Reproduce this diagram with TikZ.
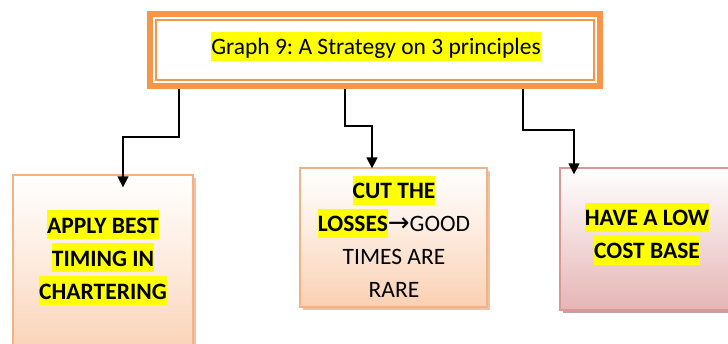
\documentclass[tikz,border=0pt]{standalone}
\usepackage{fontspec}
\setmainfont{Carlito}
\newfontfamily\arrowfont{DejaVu Sans}
\usetikzlibrary{arrows.meta,shadows}
\frenchspacing

\definecolor{frameorange}{HTML}{F79646}
\definecolor{peachline}{HTML}{F4B183}
\definecolor{peachfill}{HTML}{FAD0B2}
\definecolor{peachshadow}{HTML}{E9B48E}
\definecolor{pinkline}{HTML}{D99795}
\definecolor{pinkfill}{HTML}{E6B5B5}
\definecolor{pinkshadow}{HTML}{BF9797}
\definecolor{hlyellow}{HTML}{FFFF00}

% highlighted run of text
\newcommand\hlt[1]{{\setlength\fboxsep{0pt}\colorbox{hlyellow}{\rule[-6pt]{0pt}{29pt}#1}}}
% arrow glyph inside a line of text
\newcommand\textarrow{{\arrowfont\fontsize{26}{33}\selectfont\char"2192}}

\tikzset{
  boxtext/.style={align=center, inner sep=0pt,
    font=\fontsize{23.5}{33}\selectfont},
  peachbox/.style={draw=peachline, line width=1.3pt,
    top color=white, bottom color=peachfill, middle color=peachfill!45,
    drop shadow={shadow xshift=3pt, shadow yshift=-3pt, fill=peachshadow, opacity=0.8}},
  pinkbox/.style={draw=pinkline, line width=1.3pt,
    top color=white, bottom color=pinkfill, middle color=pinkfill!50,
    drop shadow={shadow xshift=3pt, shadow yshift=-3pt, fill=pinkshadow, opacity=0.9}},
  conn/.style={draw=black, line width=1.4pt,
    -{Triangle[width=11pt,length=11pt]}},
}

\begin{document}
\begin{tikzpicture}[x=1pt,y=-1pt]
\useasboundingbox (0,0) rectangle (728,343);

% boxes of the three principles
\node[peachbox, minimum width=180pt, minimum height=185pt, inner sep=0pt] (lbox) at (103,267.5) {};
\node[peachbox, minimum width=187pt, minimum height=139pt, inner sep=0pt] (mbox) at (393.5,237.5) {};
\node[pinkbox, minimum width=174pt, minimum height=142pt, inner sep=0pt] (rbox) at (647,239) {};

% title frame: thick outer border and thin inner border
\node[draw=frameorange, line width=6pt, fill=white,
      minimum width=450pt, minimum height=72pt, inner sep=0pt] (title) at (375,50) {};
\draw[frameorange, line width=2pt]
  ([shift={(9,9)}]title.north west) rectangle ([shift={(-9,-9)}]title.south east);

% connectors
\draw[conn] ([xshift=-196pt]title.south) -- ++(0,48)
  -| ([xshift=20pt,yshift=-13pt]lbox.north);
\draw[conn] ([xshift=-30pt]title.south) -- ++(0,37)
  -| ([xshift=-21.5pt,yshift=-1pt]mbox.north);
\draw[conn] ([xshift=148pt]title.south) -- ++(0,41)
  -| ([xshift=-73pt,yshift=-7pt]rbox.north);

% texts
\node[boxtext] (titletext) at (376,46) {\hlt{Graph 9: A Strategy on 3 principles}};
\node[boxtext, font=\fontsize{23.5}{33}\selectfont\bfseries] (ltext) at (103,257.5)
  {\hlt{APPLY BEST}\\\hlt{TIMING IN}\\\hlt{CHARTERING}};
\node[boxtext] (mtext) at (394,236.5)
  {\hlt{\bfseries CUT THE}\\\hlt{\bfseries LOSSES}\textarrow GOOD\\TIMES ARE\\RARE};
\node[boxtext, font=\fontsize{23.5}{33}\selectfont\bfseries] (rtext) at (647,233.5)
  {\hlt{HAVE A LOW}\\\hlt{COST BASE}};
\end{tikzpicture}
\end{document}
